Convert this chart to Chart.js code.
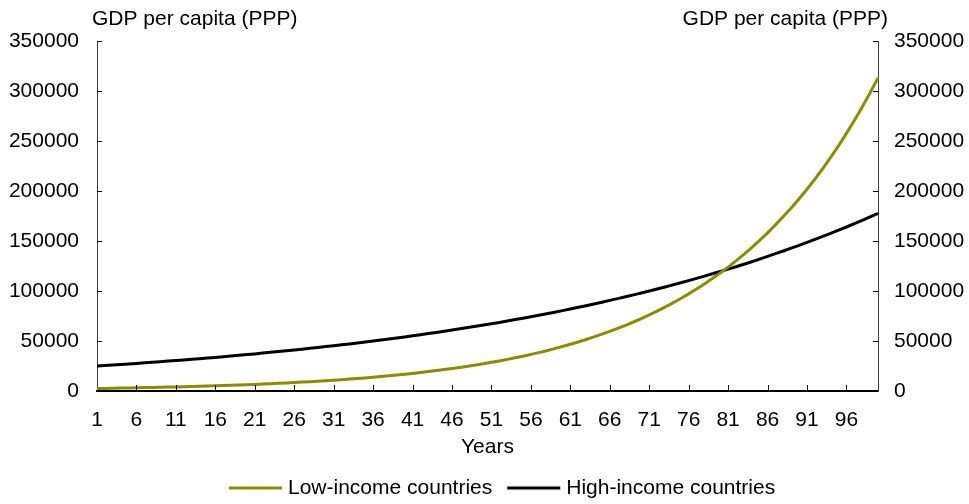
<!DOCTYPE html>
<html>
<head>
<meta charset="utf-8">
<script src="https://cdn.jsdelivr.net/npm/chart.js@4"></script>
<style>
html, body { margin: 0; padding: 0; background: #fff; }
#wrap { width: 969px; height: 504px; }
</style>
</head>
<body>
<div id="wrap"><canvas id="gdpChart" width="969" height="504"></canvas></div>
<script>
const years = Array.from({ length: 100 }, (_, i) => String(i + 1));

const lowIncome = [
    2500, 2600, 2800, 2900, 3000, 3200, 3400, 3500, 3700, 3900,
    4100, 4300, 4500, 4700, 5000, 5200, 5500, 5700, 6000, 6300,
    6600, 7000, 7300, 7700, 8100, 8500, 8900, 9300, 9800, 10300,
    10800, 11300, 11900, 12500, 13100, 13800, 14500, 15200, 16000, 16800,
    17600, 18500, 19400, 20400, 21400, 22500, 23600, 24800, 26000, 27300,
    28700, 30100, 31600, 33200, 34800, 36600, 38400, 40300, 42400, 44500,
    46700, 49000, 51500, 54100, 56800, 59600, 62600, 65700, 69000, 72400,
    76100, 79900, 83900, 88100, 92500, 97100, 101900, 107000, 112400, 118000,
    123900, 130100, 136600, 143400, 150600, 158100, 166100, 174400, 183100, 192200,
    201800, 211900, 222500, 233700, 245300, 257600, 270500, 284000, 298200, 313100
];

const highIncome = [
    25000, 25500, 26000, 26500, 27100, 27600, 28200, 28700, 29300, 29900,
    30500, 31100, 31700, 32300, 33000, 33600, 34300, 35000, 35700, 36400,
    37100, 37900, 38700, 39400, 40200, 41000, 41800, 42700, 43500, 44400,
    45300, 46200, 47100, 48100, 49000, 50000, 51000, 52000, 53100, 54100,
    55200, 56300, 57400, 58600, 59800, 60900, 62200, 63400, 64700, 66000,
    67300, 68600, 70000, 71400, 72800, 74300, 75800, 77300, 78800, 80400,
    82000, 83700, 85300, 87000, 88800, 90600, 92400, 94200, 96100, 98000,
    100000, 102000, 104000, 106100, 108200, 110400, 112600, 114900, 117200, 119500,
    121900, 124300, 126800, 129300, 131900, 134600, 137300, 140000, 142800, 145700,
    148600, 151600, 154600, 157700, 160800, 164000, 167300, 170700, 174100, 177600
];

const yTicks = [0, 50000, 100000, 150000, 200000, 250000, 300000, 350000];
const axisTitle = 'GDP per capita (PPP)';

const FONT = { family: 'Arial, "Liberation Sans", sans-serif', size: 21 };
const fontStr = `${FONT.size}px ${FONT.family}`;

// inward tick marks, the two axis titles above the y axes, and the legend
const chartExtras = {
    id: 'chartExtras',
    afterDatasetsDraw(chart) {
        const { ctx, chartArea, scales } = chart;
        ctx.save();
        ctx.strokeStyle = '#000';
        ctx.lineWidth = 1;
        ctx.beginPath();
        years.forEach((_, i) => {
            if (i === 0 || i % 5 !== 0) return;
            const px = Math.round(scales.x.getPixelForValue(i)) + 0.5;
            ctx.moveTo(px, chartArea.bottom);
            ctx.lineTo(px, chartArea.bottom - 6);
        });
        yTicks.forEach(v => {
            const py = Math.round(scales.y.getPixelForValue(v)) + 0.5;
            ctx.moveTo(chartArea.left, py);
            ctx.lineTo(chartArea.left + 5, py);
            ctx.moveTo(chartArea.right, py);
            ctx.lineTo(chartArea.right - 5, py);
        });
        ctx.stroke();

        ctx.fillStyle = '#000';
        ctx.font = fontStr;
        ctx.textBaseline = 'middle';
        ctx.textAlign = 'left';
        ctx.fillText(axisTitle, 92, 19);
        ctx.textAlign = 'right';
        ctx.fillText(axisTitle, 888, 19);

        // legend
        let lx = 229;
        const ly = 488;
        ctx.textAlign = 'left';
        chart.data.datasets.forEach(ds => {
            ctx.strokeStyle = ds.borderColor;
            ctx.lineWidth = ds.borderWidth;
            ctx.beginPath();
            ctx.moveTo(lx, ly);
            ctx.lineTo(lx + 53, ly);
            ctx.stroke();
            ctx.fillStyle = '#000';
            ctx.fillText(ds.label, lx + 59, ly);
            lx += 59 + ctx.measureText(ds.label).width + 15;
        });
        ctx.restore();
    }
};

new Chart(document.getElementById('gdpChart'), {
    type: 'line',
    data: {
        labels: years,
        datasets: [
            {
                label: 'Low-income countries',
                data: lowIncome,
                borderColor: '#8c8c00',
                backgroundColor: '#8c8c00',
                borderWidth: 3,
                pointRadius: 0,
                tension: 0,
                yAxisID: 'y'
            },
            {
                label: 'High-income countries',
                data: highIncome,
                borderColor: '#000000',
                backgroundColor: '#000000',
                borderWidth: 3,
                pointRadius: 0,
                tension: 0,
                yAxisID: 'y'
            }
        ]
    },
    options: {
        responsive: false,
        animation: false,
        layout: { padding: { top: 41, left: 0, right: 0, bottom: 32 } },
        plugins: {
            legend: { display: false },
            tooltip: { enabled: false }
        },
        scales: {
            x: {
                offset: false,
                grid: { display: true, drawOnChartArea: false, drawTicks: false },
                border: { display: true, color: '#000', width: 2 },
                ticks: {
                    autoSkip: false,
                    maxRotation: 0,
                    padding: 17,
                    color: '#000',
                    font: FONT,
                    callback: (v, i) => (i % 5 === 0 ? years[i] : '')
                },
                title: {
                    display: true,
                    text: 'Years',
                    color: '#000',
                    font: FONT,
                    padding: { top: 0, bottom: 12 }
                },
                afterFit: s => { s.height = 81; }
            },
            y: {
                position: 'left',
                min: 0,
                max: 350000,
                grid: { display: true, drawOnChartArea: false, drawTicks: false },
                border: { display: true, color: '#404040', width: 1 },
                afterBuildTicks: s => { s.ticks = yTicks.map(v => ({ value: v })); },
                ticks: { padding: 18, color: '#000', font: FONT, callback: v => String(v) },
                afterFit: s => { s.width = 97; }
            },
            y2: {
                position: 'right',
                min: 0,
                max: 350000,
                grid: { display: true, drawOnChartArea: false, drawTicks: false },
                border: { display: true, color: '#404040', width: 1 },
                afterBuildTicks: s => { s.ticks = yTicks.map(v => ({ value: v })); },
                ticks: { padding: 16, color: '#000', font: FONT, callback: v => String(v) },
                afterFit: s => { s.width = 91; }
            }
        }
    },
    plugins: [chartExtras]
});
</script>
</body>
</html>
